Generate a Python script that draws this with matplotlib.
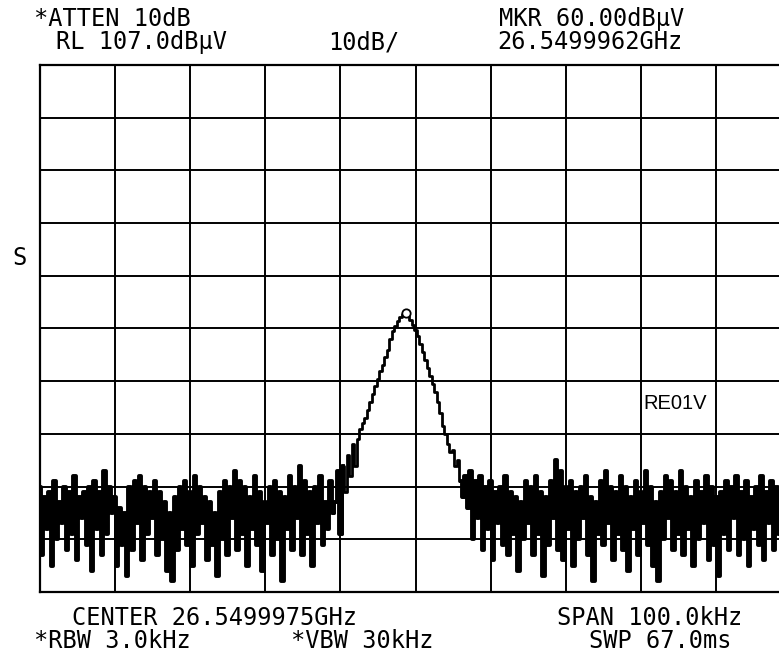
import matplotlib.pyplot as plt
import numpy as np

# Analyzer settings
ref_level = 107.0      # dBuV, top graticule line
db_per_div = 10.0
span_khz = 100.0
marker_offset_khz = -1.3   # 26.5499962 GHz vs center 26.5499975 GHz
marker_level = 60.0

# Trace samples (dBuV), 301 points across the span
noise_left = [
    27, 14, 25, 19, 26, 12, 28, 17, 24, 20, 27, 15, 26, 18, 29, 13, 25, 21, 26, 16,
    27, 11, 28, 19, 26, 14, 30, 18, 27, 22, 25, 12, 23, 16, 22, 10, 27, 15, 28, 20,
    29, 13, 27, 18, 26, 21, 28, 14, 26, 17, 24, 11, 22, 9, 25, 15, 27, 19, 28, 16,
    26, 12, 29, 18, 27, 20, 25, 13, 24, 16, 22, 10, 26, 17, 28, 14, 27, 21, 30, 15,
    28, 18, 27, 12, 25, 19, 29, 16, 26, 11, 24, 20, 27, 14, 28, 17, 26, 9, 25, 19,
    29, 15, 27, 21, 31, 14, 28, 18, 26, 12, 27, 20, 29, 16, 24, 19, 28, 22,
]
signal = [
    24, 30, 18, 31, 26, 33, 29, 35, 31, 36, 38, 39, 40, 41.5, 43, 44.5, 46, 47.5,
    49, 50, 51.5, 53, 55, 56.5, 57.5, 58.5, 59.2, 59.8, 60.0, 59.3, 58.6, 57.6,
    56.8, 55.5, 54, 52.5, 51, 49.5, 48, 46.5, 45, 43, 41, 38.5, 37, 35, 33.5, 34,
    31, 32, 28, 25, 29,
]
noise_right = [
    23, 30, 17, 28, 21, 29, 15, 27, 19, 28, 13, 26, 20, 27, 16, 29, 14, 26, 18, 25,
    11, 24, 17, 28, 20, 27, 14, 29, 18, 26, 10, 25, 16, 28, 21, 32, 15, 30, 13, 27,
    19, 28, 12, 26, 17, 27, 21, 29, 14, 25, 9, 24, 18, 28, 16, 30, 20, 27, 13, 26,
    18, 29, 15, 27, 11, 25, 19, 28, 14, 26, 20, 30, 16, 27, 12, 24, 9, 26, 17, 29,
    21, 28, 15, 26, 18, 30, 14, 27, 19, 25, 12, 28, 17, 26, 20, 29, 13, 27, 16, 25,
    10, 26, 18, 28, 15, 27, 21, 29, 14, 26, 17, 28, 12, 25, 19, 27, 16, 29, 13, 26,
    20, 28, 15, 27, 18, 26, 14, 29, 17, 27,
]

trace = np.array(noise_left + signal + noise_right, dtype=float)
freq = np.linspace(-span_khz / 2, span_khz / 2, trace.size)

W, H = 779, 659
fig = plt.figure(figsize=(W / 100, H / 100), dpi=100)
fig.patch.set_facecolor("white")

# graticule: 10 x 10 divisions, right edge runs past the screen capture
left, top, right, bottom = 39.5, 65.0, 791.5, 592.0
ax = fig.add_axes([left / W, 1 - bottom / H, (right - left) / W, (bottom - top) / H])
ax.set_xlim(-span_khz / 2, span_khz / 2)
ax.set_ylim(ref_level - 10 * db_per_div, ref_level)
ax.set_xticks(np.linspace(-span_khz / 2, span_khz / 2, 11))
ax.set_yticks(np.linspace(ref_level - 10 * db_per_div, ref_level, 11))
ax.tick_params(length=0, labelleft=False, labelbottom=False)
ax.grid(True, color="black", linewidth=1.4)
for sp in ax.spines.values():
    sp.set_linewidth(1.6)
ax.set_axisbelow(True)

# stepped trace, like the display's per-column bars; noise floor drawn heavier
n_left, n_sig = len(noise_left), len(signal)
sig_slice = slice(n_left - 1, n_left + n_sig + 1)
ax.plot(freq[sig_slice], trace[sig_slice], color="black", linewidth=2.0,
        drawstyle="steps-mid")
ax.plot(freq[:n_left + 4], trace[:n_left + 4], color="black", linewidth=2.8,
        drawstyle="steps-mid")
ax.plot(freq[n_left + n_sig - 3:], trace[n_left + n_sig - 3:], color="black",
        linewidth=2.8, drawstyle="steps-mid")
ax.plot([marker_offset_khz], [marker_level], marker="o", markersize=6,
         markerfacecolor="white", markeredgecolor="black", markeredgewidth=1.3,
         linestyle="none", clip_on=False)

ax.text(0.845, 0.357, "RE01V", transform=ax.transAxes, ha="center", va="center",
        fontsize=14.5, family="Liberation Sans")

# annotation block around the screen
mono = dict(family="DejaVu Sans Mono", fontsize=17, ha="center", va="center")


def put(x, y, s):
    fig.text(x / W, 1 - y / H, s, **mono)


put(112, 19, "*ATTEN 10dB")
put(142, 42, "RL 107.0dBµV")
put(364, 42, "10dB/")
put(592, 19, "MKR 60.00dBµV")
put(590, 42, "26.5499962GHz")
put(20, 258, "S")
put(215, 618, "CENTER 26.5499975GHz")
put(650, 618, "SPAN 100.0kHz")
put(112, 641, "*RBW 3.0kHz")
put(362, 641, "*VBW 30kHz")
put(660, 641, "SWP 67.0ms")

fig.savefig("out.png", dpi=100)
